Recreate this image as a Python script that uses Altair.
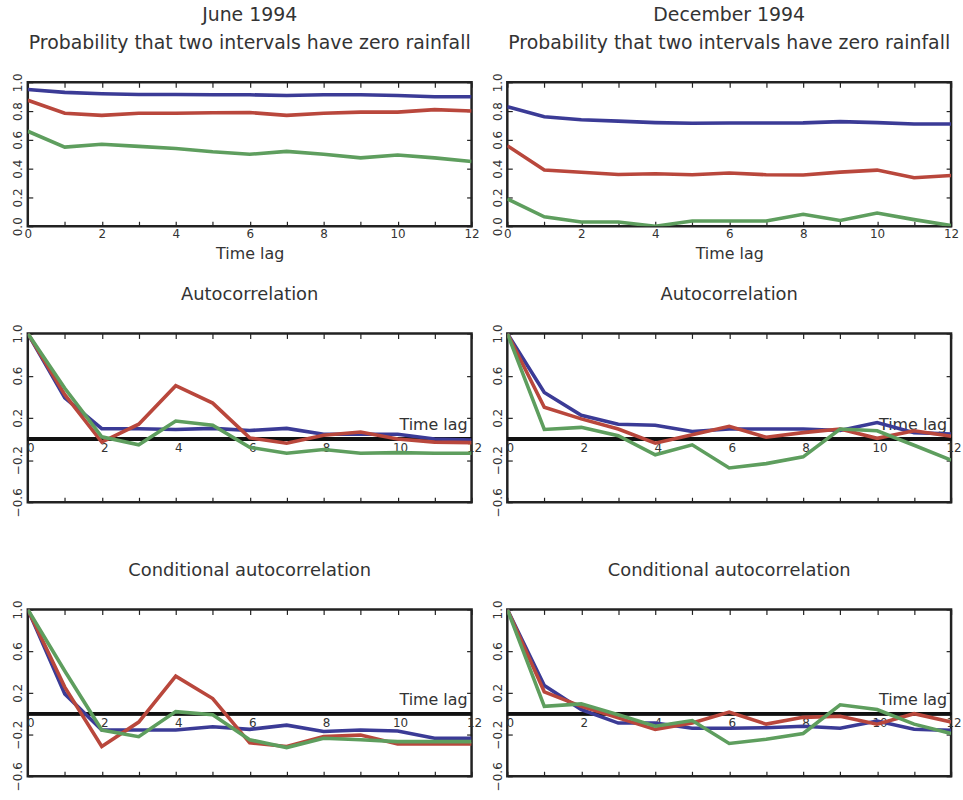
import altair as alt
import pandas as pd

# Time lags shared by every panel
lags = list(range(13))
series_names = ["s1", "s2", "s3"]
line_colors = ["#3b3b96", "#b9473c", "#5e9e5e"]

# Probability that two intervals have zero rainfall
june_prob_s1 = [0.95, 0.93, 0.92, 0.915, 0.915, 0.913, 0.913, 0.908, 0.913, 0.913, 0.908, 0.90, 0.90]
june_prob_s2 = [0.875, 0.785, 0.77, 0.785, 0.785, 0.788, 0.79, 0.77, 0.785, 0.793, 0.793, 0.81, 0.80]
june_prob_s3 = [0.66, 0.55, 0.57, 0.555, 0.54, 0.517, 0.50, 0.52, 0.50, 0.475, 0.495, 0.475, 0.45]
dec_prob_s1 = [0.83, 0.76, 0.74, 0.73, 0.72, 0.715, 0.717, 0.717, 0.718, 0.727, 0.72, 0.71, 0.71]
dec_prob_s2 = [0.56, 0.39, 0.375, 0.36, 0.365, 0.358, 0.37, 0.358, 0.356, 0.376, 0.39, 0.337, 0.353]
dec_prob_s3 = [0.19, 0.065, 0.03, 0.03, 0.0, 0.037, 0.037, 0.037, 0.083, 0.04, 0.092, 0.046, 0.005]

# Autocorrelation
june_acf_s1 = [1.0, 0.39, 0.097, 0.097, 0.09, 0.10, 0.08, 0.10, 0.044, 0.044, 0.044, 0.0, -0.01]
june_acf_s2 = [1.0, 0.42, -0.03, 0.14, 0.505, 0.34, 0.01, -0.04, 0.035, 0.066, 0.0, -0.03, -0.035]
june_acf_s3 = [1.0, 0.48, 0.02, -0.056, 0.17, 0.13, -0.08, -0.135, -0.10, -0.135, -0.13, -0.135, -0.135]
dec_acf_s1 = [1.0, 0.44, 0.225, 0.14, 0.13, 0.07, 0.094, 0.094, 0.094, 0.08, 0.156, 0.06, 0.047]
dec_acf_s2 = [1.0, 0.30, 0.19, 0.094, -0.04, 0.04, 0.12, 0.016, 0.06, 0.094, 0.006, 0.078, 0.025]
dec_acf_s3 = [1.0, 0.09, 0.11, 0.03, -0.15, -0.056, -0.275, -0.234, -0.17, 0.094, 0.078, -0.06, -0.2]

# Conditional autocorrelation
june_cond_s1 = [1.0, 0.19, -0.157, -0.157, -0.157, -0.125, -0.15, -0.11, -0.17, -0.157, -0.166, -0.236, -0.236]
june_cond_s2 = [1.0, 0.255, -0.315, -0.08, 0.36, 0.145, -0.28, -0.315, -0.22, -0.205, -0.29, -0.29, -0.29]
june_cond_s3 = [1.0, 0.41, -0.157, -0.22, 0.02, -0.01, -0.25, -0.325, -0.236, -0.25, -0.268, -0.268, -0.268]
dec_cond_s1 = [1.0, 0.27, 0.04, -0.09, -0.09, -0.14, -0.14, -0.135, -0.12, -0.14, -0.07, -0.15, -0.16]
dec_cond_s2 = [1.0, 0.21, 0.07, -0.04, -0.15, -0.09, 0.016, -0.1, -0.035, -0.025, -0.1, 0.0, -0.08]
dec_cond_s3 = [1.0, 0.07, 0.094, -0.01, -0.12, -0.066, -0.285, -0.245, -0.19, 0.085, 0.04, -0.1, -0.19]

prob_ticks = [0.0, 0.2, 0.4, 0.6, 0.8, 1.0]
corr_ticks = [-0.6, -0.2, 0.2, 0.6, 1.0]
even_lags = [0, 2, 4, 6, 8, 10, 12]

FONT = "DejaVu Sans"
TEXT = "#333333"
INK = "#222222"

color_scale = alt.Scale(domain=series_names, range=line_colors)


def tick_axis(orient, values, **kw):
    # short ticks pointing into the frame, no axis line
    return alt.Axis(orient=orient, values=values, tickSize=5, offset=-5, domain=False,
                    grid=False, tickColor=INK, tickWidth=1.2, title=None, labels=False, **kw)


def panel(s1, s2, s3, y_min, y_max, y_ticks, title, title_size, height, lag_on_zero):
    df = pd.DataFrame({
        "lag": lags * 3,
        "value": s1 + s2 + s3,
        "series": [n for n in series_names for _ in lags],
    })
    x_scale = alt.Scale(domain=[0, 12], nice=False, zero=False)
    y_scale = alt.Scale(domain=[y_min, y_max], nice=False, zero=False)

    y_left = alt.Axis(orient="left", values=y_ticks, format=".1f", labelAngle=270,
                      labelAlign="center", labelBaseline="bottom", labelFontSize=12,
                      labelColor=TEXT, labelFont=FONT, labelPadding=3, labelFlush=False,
                      labelOverlap=False, tickSize=5, offset=-5, domain=False, grid=False,
                      tickColor=INK, tickWidth=1.2, title=None)
    if lag_on_zero:
        x_bottom = tick_axis("bottom", lags)
    else:
        x_bottom = alt.Axis(orient="bottom", values=lags, format="d",
                            labelExpr="datum.value % 2 === 0 ? datum.label : ''",
                            labelFontSize=12, labelColor=TEXT, labelFont=FONT,
                            labelPadding=2, labelFlush=False, labelOverlap=False,
                            tickSize=5, offset=-5, domain=False, grid=False,
                            tickColor=INK, tickWidth=1.2, title="Time lag",
                            titleFontSize=16, titleFontWeight="normal",
                            titleColor=TEXT, titleFont=FONT, titlePadding=6)

    lines = alt.Chart(df).mark_line(strokeWidth=3.6, clip=True).encode(
        x=alt.X("lag:Q", scale=x_scale, axis=x_bottom),
        y=alt.Y("value:Q", scale=y_scale, axis=y_left),
        color=alt.Color("series:N", scale=color_scale, legend=None),
    )
    frame_ticks = alt.Chart(df).mark_line(opacity=0).encode(
        x=alt.X("lag:Q", scale=x_scale, axis=tick_axis("top", lags)),
        y=alt.Y("value:Q", scale=y_scale, axis=tick_axis("right", y_ticks)),
        detail="series:N",
    )
    layers = [frame_ticks]
    if lag_on_zero:
        zero_df = pd.DataFrame({"lag": even_lags, "zero": [0.0] * len(even_lags),
                                "label": [str(v) for v in even_lags]})
        zero_line = alt.Chart(zero_df).mark_rule(color="#111111", strokeWidth=3).encode(
            y=alt.Y("zero:Q", scale=y_scale, axis=None),
        )
        zero_labels = alt.Chart(zero_df).mark_text(
            fontSize=12, font=FONT, color=TEXT, baseline="top", dy=4, dx=3
        ).encode(
            x=alt.X("lag:Q", scale=x_scale, axis=None),
            y=alt.Y("zero:Q", scale=y_scale, axis=None),
            text="label:N",
        )
        lag_title = alt.Chart(pd.DataFrame({"lag": [12], "zero": [0.0], "t": ["Time lag"]})).mark_text(
            fontSize=16, font=FONT, color=TEXT, align="right", baseline="bottom", dx=-4, dy=-6
        ).encode(
            x=alt.X("lag:Q", scale=x_scale, axis=None),
            y=alt.Y("zero:Q", scale=y_scale, axis=None),
            text="t:N",
        )
        layers += [zero_line, zero_labels, lag_title]
    layers.append(lines)

    return alt.layer(*layers).resolve_axis(x="independent", y="independent").properties(
        width=447, height=height,
        title=alt.TitleParams(text=title, fontSize=title_size, font=FONT, color=TEXT,
                              fontWeight="normal", anchor="middle", lineHeight=28, offset=20),
    )


prob_title_june = ["June 1994", "Probability that two intervals have zero rainfall"]
prob_title_dec = ["December 1994", "Probability that two intervals have zero rainfall"]

panels = [
    panel(june_prob_s1, june_prob_s2, june_prob_s3, 0.0, 1.0, prob_ticks, prob_title_june, 19, 145, False),
    panel(dec_prob_s1, dec_prob_s2, dec_prob_s3, 0.0, 1.0, prob_ticks, prob_title_dec, 19, 145, False),
    panel(june_acf_s1, june_acf_s2, june_acf_s3, -0.6, 1.0, corr_ticks, "Autocorrelation", 18, 170, True),
    panel(dec_acf_s1, dec_acf_s2, dec_acf_s3, -0.6, 1.0, corr_ticks, "Autocorrelation", 18, 170, True),
    panel(june_cond_s1, june_cond_s2, june_cond_s3, -0.6, 1.0, corr_ticks, "Conditional autocorrelation", 18, 168, True),
    panel(dec_cond_s1, dec_cond_s2, dec_cond_s3, -0.6, 1.0, corr_ticks, "Conditional autocorrelation", 18, 168, True),
]

chart = alt.concat(
    *panels, columns=2, spacing=alt.RowColnumber(row=108, column=36), bounds="flush"
).properties(
    padding={"left": 10, "top": 2, "right": 0, "bottom": 0},
    background="white",
).configure_view(
    stroke=INK, strokeWidth=2.5,
).configure_axis(grid=False)

chart.save("out.html", embed_options={"renderer": "svg", "actions": False})
